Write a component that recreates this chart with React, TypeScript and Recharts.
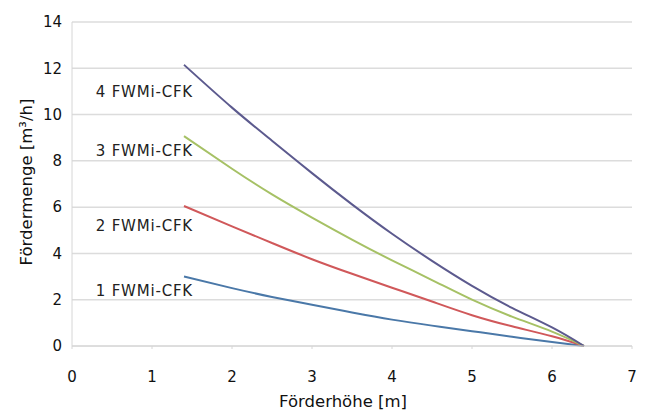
import React from "react";
import { LineChart, Line, XAxis, YAxis, CartesianGrid, Label } from "recharts";

const heads = [1.4, 2, 2.5, 3, 3.5, 4, 4.5, 5, 5.5, 6, 6.4];
const flow1 = [3.0, 2.5, 2.12, 1.78, 1.45, 1.14, 0.88, 0.64, 0.4, 0.17, 0];
const flow2 = [6.05, 5.17, 4.45, 3.75, 3.12, 2.52, 1.92, 1.33, 0.85, 0.42, 0];
const flow3 = [9.07, 7.66, 6.55, 5.55, 4.6, 3.7, 2.85, 2.0, 1.27, 0.62, 0];
const flow4 = [12.15, 10.3, 8.87, 7.47, 6.12, 4.85, 3.68, 2.6, 1.65, 0.8, 0];
const xTicks = [0, 1, 2, 3, 4, 5, 6, 7];
const yTicks = [0, 2, 4, 6, 8, 10, 12, 14];
const seriesNames = ["1 FWMi-CFK", "2 FWMi-CFK", "3 FWMi-CFK", "4 FWMi-CFK"];

const data = heads.map((h, i) => ({
  h,
  s1: flow1[i],
  s2: flow2[i],
  s3: flow3[i],
  s4: flow4[i],
}));

const series = [
  { key: "s1", name: seriesNames[0], color: "#4a78a8", dy: 14 },
  { key: "s2", name: seriesNames[1], color: "#d0585a", dy: 20 },
  { key: "s3", name: seriesNames[2], color: "#a6c165", dy: 15 },
  { key: "s4", name: seriesNames[3], color: "#5c5a8e", dy: 27 },
];

const font = "DejaVu Sans";
const tickStyle = { fontFamily: font, fontSize: 15, fill: "#111" };

export default function App() {
  return (
    <div style={{ width: 639, height: 402 }}>
      <LineChart
        width={639}
        height={402}
        data={data}
        margin={{ top: 14, right: 15, bottom: 0, left: 0 }}
      >
        <CartesianGrid horizontal vertical={false} stroke="#dcdcdc" strokeWidth={1.5} />
        <XAxis
          dataKey="h"
          type="number"
          domain={[0, 7]}
          ticks={xTicks}
          height={64}
          stroke="#d6d6d6"
          tickSize={3}
          tickMargin={22}
          tick={tickStyle}
        >
          <Label
            value="Förderhöhe [m]"
            position="insideBottom"
            offset={3}
            dx={-9}
            style={{ fontFamily: font, fontSize: 16.5, fill: "#111" }}
          />
        </XAxis>
        <YAxis
          type="number"
          domain={[0, 14]}
          ticks={yTicks}
          width={64}
          stroke="#d6d6d6"
          tickLine={false}
          tickMargin={4}
          tick={tickStyle}
        >
          <Label
            value="Fördermenge  [m³/h]"
            angle={-90}
            position="insideLeft"
            offset={18}
            dy={-2}
            style={{ textAnchor: "middle", fontFamily: font, fontSize: 16.5, fill: "#111" }}
          />
        </YAxis>
        {series.map((s) => (
          <Line
            key={s.key}
            dataKey={s.key}
            type="natural"
            stroke={s.color}
            strokeWidth={2}
            dot={false}
            isAnimationActive={false}
            label={(p: any) =>
              p.index === 0 ? (
                <text
                  key={s.key + "lbl"}
                  x={p.x + 9}
                  y={p.y + s.dy}
                  dy="0.35em"
                  textAnchor="end"
                  fontFamily={font}
                  fontSize={15}
                  letterSpacing={0.8}
                  fill="#222"
                >
                  {s.name}
                </text>
              ) : null
            }
          />
        ))}
      </LineChart>
    </div>
  );
}
